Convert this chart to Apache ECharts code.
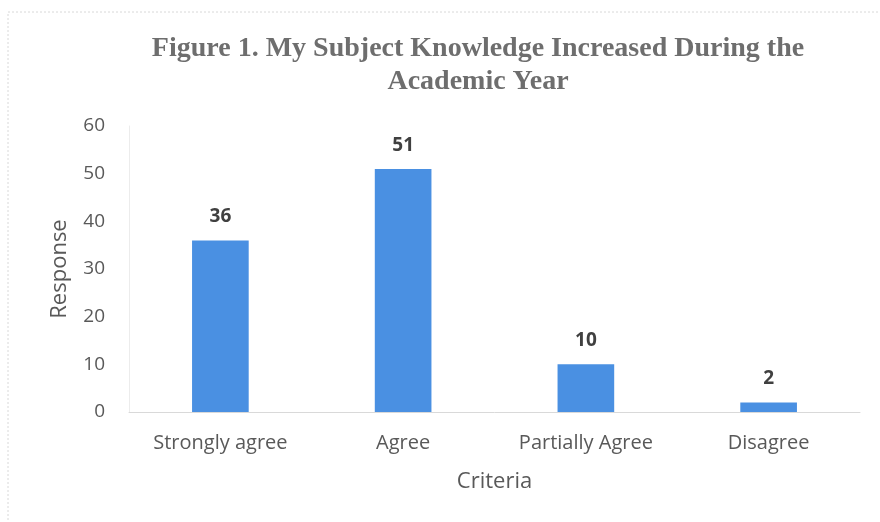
<!DOCTYPE html>
<html>
<head>
<meta charset="utf-8">
<script src="https://cdn.jsdelivr.net/npm/echarts@6/dist/echarts.min.js"></script>
<style>
  html, body { margin: 0; padding: 0; background: #fff; }
  #chart { width: 880px; height: 522px; }
</style>
</head>
<body>
<div id="chart"></div>
<script>
var categories = ['Strongly agree', 'Agree', 'Partially Agree', 'Disagree'];
var responses = [36, 51, 10, 2];
var yTicks = [0, 10, 20, 30, 40, 50, 60];

var myChart = echarts.init(document.getElementById('chart'));
var textColor = '#595959';
var sansFont = '"Open Sans", "Noto Sans", sans-serif';

var option = {
  backgroundColor: '#fff',
  animation: false,
  title: {
    text: 'Figure 1. My Subject Knowledge Increased During the\nAcademic Year',
    left: 473,
    top: 27,
    textAlign: 'center',
    textStyle: {
      fontFamily: '"Liberation Serif", serif',
      fontWeight: 'bold',
      fontSize: 28,
      color: '#6e6e6e',
      lineHeight: 33
    }
  },
  graphic: [{
    type: 'rect',
    shape: { x: 8, y: 12, width: 900, height: 600 },
    style: { fill: 'none', stroke: '#d8d8d8', lineWidth: 1, lineDash: [2, 2] },
    silent: true
  }],
  grid: {
    left: 129,
    right: 20,
    top: 126,
    bottom: 110
  },
  xAxis: {
    type: 'category',
    data: categories,
    name: 'Criteria',
    nameLocation: 'middle',
    nameGap: 59,
    nameTextStyle: { fontFamily: sansFont, fontSize: 22, color: textColor },
    axisLine: { lineStyle: { color: '#d9d9d9' } },
    axisTick: { show: false },
    axisLabel: { fontFamily: sansFont, fontSize: 20, color: textColor, margin: 21 }
  },
  yAxis: {
    type: 'value',
    min: yTicks[0],
    max: yTicks[yTicks.length - 1],
    interval: 10,
    name: 'Response',
    nameLocation: 'middle',
    nameGap: 58,
    nameTextStyle: { fontFamily: sansFont, fontSize: 22, color: textColor },
    axisLine: { show: true, lineStyle: { color: '#ececec' } },
    axisTick: { show: false },
    splitLine: { show: false },
    axisLabel: { fontFamily: sansFont, fontSize: 19, color: textColor, margin: 24 }
  },
  series: [{
    name: 'Response',
    type: 'bar',
    data: responses,
    barWidth: '31%',
    itemStyle: { color: '#4a90e2' },
    label: {
      show: true,
      position: 'top',
      distance: 14,
      fontFamily: sansFont,
      fontSize: 19,
      fontWeight: 'bold',
      color: '#404040'
    }
  }]
};
myChart.setOption(option);
</script>
</body>
</html>
